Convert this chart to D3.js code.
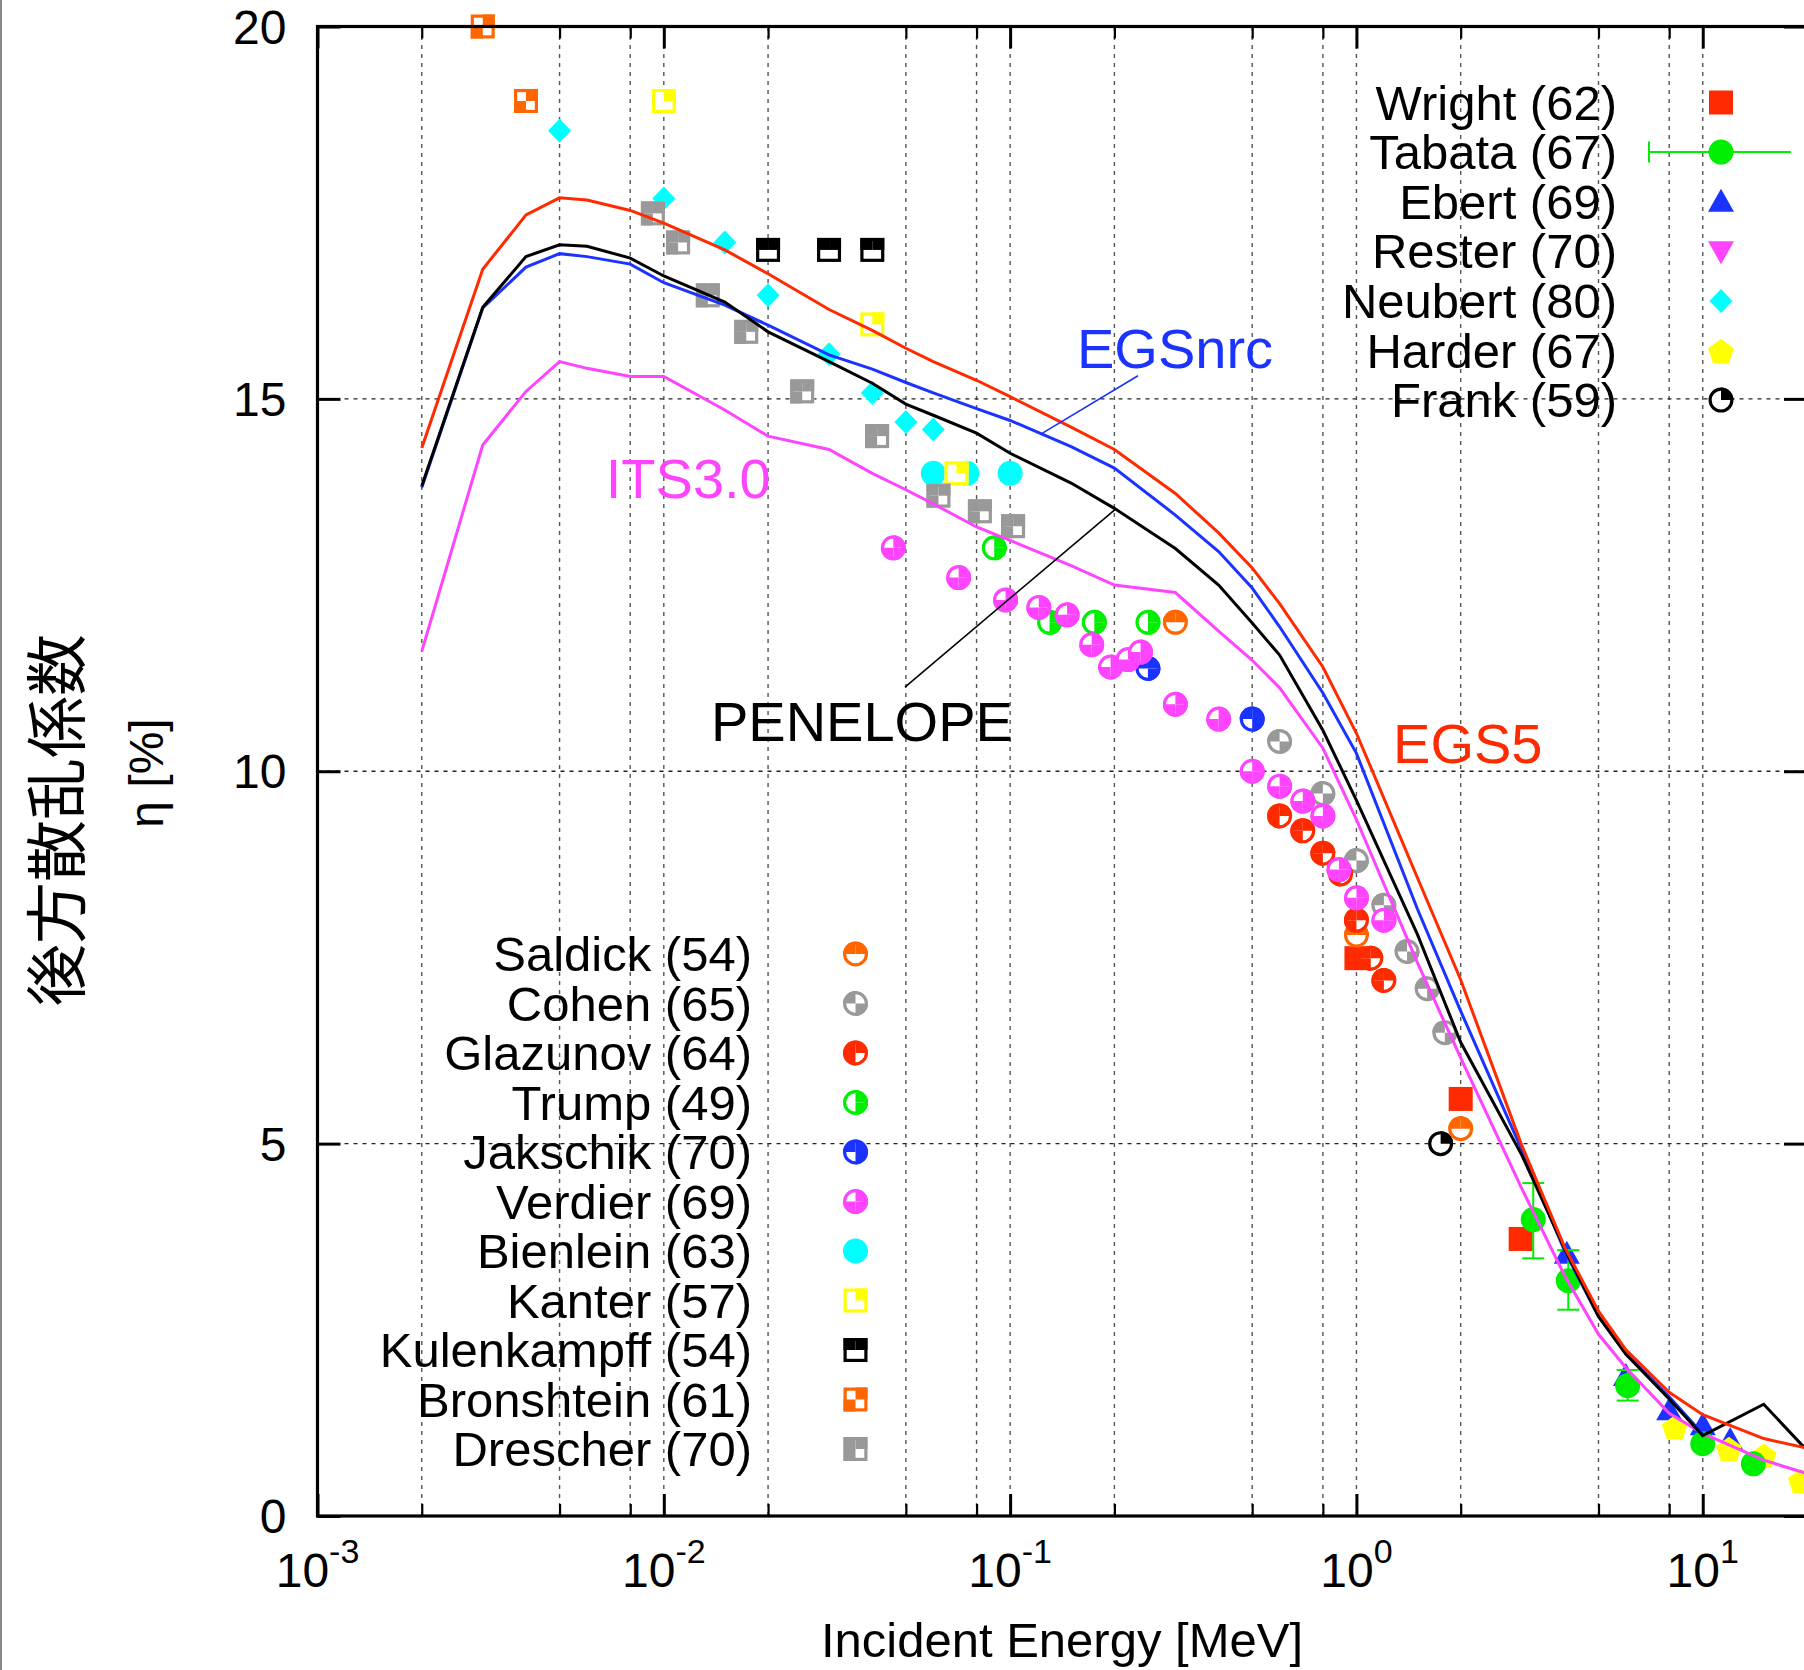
<!DOCTYPE html>
<html>
<head>
<meta charset="utf-8">
<script src="https://cdn.jsdelivr.net/npm/d3@7"></script>
<style>
  body { margin: 0; background: #fff; }
  text { font-family: "Liberation Sans", Arial, Helvetica, sans-serif; }
</style>
</head>
<body>
<div id="chart"></div>
<script>
// ---- simulation curves (energy grid shared by all codes) ----
var simE     = [0.002, 0.003, 0.004, 0.005, 0.006, 0.008, 0.01, 0.015, 0.02, 0.03, 0.04, 0.05, 0.06, 0.08, 0.1, 0.15, 0.2, 0.3, 0.4, 0.5, 0.6, 0.8, 1, 1.5, 2, 3, 4, 5, 6, 8, 10, 15, 20];
var egs5     = [14.34, 16.74, 17.47, 17.70, 17.67, 17.53, 17.36, 17.00, 16.68, 16.20, 15.92, 15.68, 15.50, 15.25, 15.03, 14.62, 14.32, 13.73, 13.20, 12.73, 12.25, 11.40, 10.51, 8.57, 7.20, 4.98, 3.60, 2.75, 2.23, 1.66, 1.36, 1.04, 0.91];
var egsnrc   = [13.81, 16.22, 16.77, 16.95, 16.91, 16.81, 16.56, 16.26, 15.99, 15.59, 15.40, 15.22, 15.08, 14.87, 14.71, 14.36, 14.07, 13.44, 12.95, 12.46, 11.94, 11.05, 10.24, 8.15, 6.78, 4.92, 3.55, 2.68, 2.18, 1.60, 1.10, null, null];
var penelope = [13.83, 16.23, 16.91, 17.07, 17.05, 16.89, 16.65, 16.30, 15.90, 15.50, 15.21, 14.93, 14.78, 14.54, 14.27, 13.87, 13.53, 12.99, 12.50, 11.99, 11.56, 10.55, 9.61, 7.81, 6.36, 4.85, 3.58, 2.68, 2.17, 1.57, 1.08, 1.50, 0.88];
var its30    = [11.61, 14.38, 15.10, 15.50, 15.41, 15.30, 15.30, 14.85, 14.50, 14.32, 14.00, 13.78, 13.59, 13.28, 13.10, 12.76, 12.50, 12.40, 11.88, 11.49, 11.12, 10.31, 9.35, 7.43, 6.15, 4.40, 3.22, 2.44, 1.99, 1.38, 1.11, 0.75, 0.57];

// ---- measurements [E (MeV), eta (%)] ----
var saldick     = [[0.3, 12.0], [1.0, 7.8], [2.0, 5.2]];
var cohen       = [[0.6, 10.4], [0.8, 9.7], [1.0, 8.8], [1.2, 8.2], [1.4, 7.58], [1.6, 7.08], [1.8, 6.49]];
var glazunov    = [[0.6, 9.4], [0.7, 9.2], [0.8, 8.9], [0.9, 8.62], [1.0, 8.0], [1.1, 7.49], [1.2, 7.19]];
var trump       = [[0.09, 13.0], [0.13, 12.0], [0.175, 12.0], [0.25, 12.0]];
var jakschik    = [[0.25, 11.38], [0.5, 10.7]];
var verdier     = [[0.046, 13.0], [0.071, 12.6], [0.097, 12.3], [0.121, 12.2], [0.146, 12.1], [0.172, 11.7], [0.195, 11.4], [0.219, 11.5], [0.238, 11.6], [0.3, 10.9], [0.4, 10.7], [0.5, 10.0], [0.6, 9.8], [0.7, 9.6], [0.8, 9.4], [0.89, 8.68], [1.0, 8.3], [1.2, 8.0]];
var bienlein    = [[0.06, 14.0], [0.075, 14.0], [0.1, 14.0]];
var kanter      = [[0.01, 19.0], [0.04, 16.0], [0.07, 14.0]];
var kulenkampff = [[0.02, 17.0], [0.03, 17.0], [0.04, 17.0]];
var bronshtein  = [[0.003, 20.0], [0.004, 19.0]];
var drescher    = [[0.0093, 17.49], [0.011, 17.1], [0.0134, 16.39], [0.0173, 15.9], [0.0251, 15.1], [0.0413, 14.5], [0.0621, 13.7], [0.0818, 13.49], [0.102, 13.29]];
var wright      = [[1.0, 7.49], [2.0, 5.6], [2.98, 3.72]];
var tabataE     = [3.24, 4.09, 6.07, 10.0, 14.0];
var tabataEta   = [3.98, 3.16, 1.75, 0.97, 0.70];
var tabataLo    = [3.46, 2.77, 1.55, null, null];
var tabataHi    = [4.47, 3.57, 1.96, null, null];
var ebert       = [[4.05, 3.52], [6.0, 1.88], [8.0, 1.42], [10.0, 1.22], [12.0, 1.02]];
var rester      = [];
var neubert     = [[0.005, 18.6], [0.01, 17.69], [0.015, 17.1], [0.02, 16.39], [0.03, 15.6], [0.04, 15.08], [0.05, 14.69], [0.06, 14.59]];
var harder      = [[8.3, 1.2], [11.9, 0.91], [15.0, 0.82], [19.2, 0.48]];
var frank       = [[1.75, 5.0]];

// ---- axis ticks ----
var xMajor = [0.001, 0.01, 0.1, 1, 10];
var xExp   = ["-3", "-2", "-1", "0", "1"];
var xMinor = [];
xMajor.forEach(function(d) { [2, 5, 8].forEach(function(m) { if (d * m <= 20) xMinor.push(d * m); }); });
var yTicks = [0, 5, 10, 15, 20];

var W = 1804, H = 1670;
var svg = d3.select("#chart").append("svg").attr("width", W).attr("height", H);

var x = d3.scaleLog().domain([0.001, 20]).range([317.5, 1807]);
var y = d3.scaleLinear().domain([0, 20]).range([1516, 26.5]);

var red = "#ff2a00", blue = "#1a33ff", black = "#000", mag = "#ff44ff",
    cyan = "#00ffff", green = "#00ee00", yellow = "#ffff00", orange = "#ff6600", gray = "#999";

// thin frame line at the very left of the picture
svg.append("line").attr("x1", 1).attr("x2", 1).attr("y1", 0).attr("y2", H)
   .attr("stroke", "#888").attr("stroke-width", 2);

// grid
var grid = svg.append("g");
grid.selectAll(".vg").data(xMajor.concat(xMinor)).enter().append("line")
    .attr("x1", function(d) { return x(d); }).attr("x2", function(d) { return x(d); })
    .attr("y1", y(0)).attr("y2", y(20))
    .attr("stroke", "#555").attr("stroke-width", 1.4).attr("stroke-dasharray", "4,5");
grid.selectAll(".hg").data([5, 10, 15]).enter().append("line")
    .attr("x1", x(0.001)).attr("x2", x(20))
    .attr("y1", function(d) { return y(d); }).attr("y2", function(d) { return y(d); })
    .attr("stroke", "#222").attr("stroke-width", 1.4).attr("stroke-dasharray", "4,5");

// ---- marker drawing ----
var R = 12.5, S = 24;
var quadAngles = { TR: [0, Math.PI / 2], BR: [Math.PI / 2, Math.PI], BL: [Math.PI, 1.5 * Math.PI], TL: [1.5 * Math.PI, 2 * Math.PI] };

function circleMark(g, cx, cy, color, quads) {
    var m = g.append("g").attr("transform", "translate(" + cx + "," + cy + ")");
    m.append("circle").attr("r", R - 1.6).attr("fill", "#fff");
    quads.forEach(function(q) {
        m.append("path").attr("fill", color)
         .attr("d", d3.arc()({ innerRadius: 0, outerRadius: R, startAngle: quadAngles[q][0], endAngle: quadAngles[q][1] }));
    });
    m.append("circle").attr("r", R - 1.6).attr("fill", "none").attr("stroke", color).attr("stroke-width", 3.2);
}

function squareMark(g, cx, cy, color, quads) {
    var m = g.append("g").attr("transform", "translate(" + cx + "," + cy + ")");
    var h = S / 2;
    m.append("rect").attr("x", -h).attr("y", -h).attr("width", S).attr("height", S).attr("fill", "#fff");
    var pos = { TL: [-h, -h], TR: [0, -h], BL: [-h, 0], BR: [0, 0] };
    quads.forEach(function(q) {
        m.append("rect").attr("x", pos[q][0]).attr("y", pos[q][1]).attr("width", h).attr("height", h).attr("fill", color);
    });
    m.append("rect").attr("x", -h + 1.6).attr("y", -h + 1.6).attr("width", S - 3.2).attr("height", S - 3.2)
     .attr("fill", "none").attr("stroke", color).attr("stroke-width", 3.2);
}

function fullSquare(g, cx, cy, color) {
    g.append("rect").attr("x", cx - S / 2).attr("y", cy - S / 2).attr("width", S).attr("height", S).attr("fill", color);
}
function triUp(g, cx, cy, color) {
    g.append("path").attr("fill", color)
     .attr("d", "M" + cx + "," + (cy - 13) + "L" + (cx + 13) + "," + (cy + 10) + "L" + (cx - 13) + "," + (cy + 10) + "Z");
}
function triDown(g, cx, cy, color) {
    g.append("path").attr("fill", color)
     .attr("d", "M" + cx + "," + (cy + 13) + "L" + (cx + 13) + "," + (cy - 10) + "L" + (cx - 13) + "," + (cy - 10) + "Z");
}
function diamond(g, cx, cy, color) {
    g.append("path").attr("fill", color)
     .attr("d", "M" + cx + "," + (cy - 12) + "L" + (cx + 11.5) + "," + cy + "L" + cx + "," + (cy + 12) + "L" + (cx - 11.5) + "," + cy + "Z");
}
function pentagon(g, cx, cy, color) {
    var pts = d3.range(5).map(function(i) {
        var a = -Math.PI / 2 + i * 2 * Math.PI / 5;
        return [cx + 13.5 * Math.cos(a), cy + 2 + 13.5 * Math.sin(a)];
    });
    g.append("path").attr("fill", color).attr("d", "M" + pts.join("L") + "Z");
}
function filledCircle(g, cx, cy, color) {
    g.append("circle").attr("cx", cx).attr("cy", cy).attr("r", R).attr("fill", color);
}

// series table: name, data, drawing function
var series = [
    { name: "Saldick (54)",     data: saldick,     draw: function(g, a, b) { circleMark(g, a, b, orange, ["TL", "TR"]); } },
    { name: "Cohen (65)",       data: cohen,       draw: function(g, a, b) { circleMark(g, a, b, gray, ["TL", "BR"]); } },
    { name: "Glazunov (64)",    data: glazunov,    draw: function(g, a, b) { circleMark(g, a, b, red, ["TL", "TR", "BL"]); } },
    { name: "Trump (49)",       data: trump,       draw: function(g, a, b) { circleMark(g, a, b, green, ["TR", "BR"]); } },
    { name: "Jakschik (70)",    data: jakschik,    draw: function(g, a, b) { circleMark(g, a, b, blue, ["TL", "TR", "BR"]); } },
    { name: "Verdier (69)",     data: verdier,     draw: function(g, a, b) { circleMark(g, a, b, mag, ["TR", "BR", "BL"]); } },
    { name: "Bienlein (63)",    data: bienlein,    draw: function(g, a, b) { filledCircle(g, a, b, cyan); } },
    { name: "Kanter (57)",      data: kanter,      draw: function(g, a, b) { squareMark(g, a, b, yellow, ["TR"]); } },
    { name: "Kulenkampff (54)", data: kulenkampff, draw: function(g, a, b) { squareMark(g, a, b, black, ["TL", "TR"]); } },
    { name: "Bronshtein (61)",  data: bronshtein,  draw: function(g, a, b) { squareMark(g, a, b, orange, ["TR", "BL"]); } },
    { name: "Drescher (70)",    data: drescher,    draw: function(g, a, b) { squareMark(g, a, b, gray, ["TL", "TR", "BL"]); } }
];
var series2 = [
    { name: "Wright (62)",  data: wright,  draw: function(g, a, b) { fullSquare(g, a, b, red); } },
    { name: "Tabata (67)",  data: [],      draw: function(g, a, b) { filledCircle(g, a, b, green); } },
    { name: "Ebert (69)",   data: ebert,   draw: function(g, a, b) { triUp(g, a, b, blue); } },
    { name: "Rester (70)",  data: rester,  draw: function(g, a, b) { triDown(g, a, b, mag); } },
    { name: "Neubert (80)", data: neubert, draw: function(g, a, b) { diamond(g, a, b, cyan); } },
    { name: "Harder (67)",  data: harder,  draw: function(g, a, b) { pentagon(g, a, b, yellow); } },
    { name: "Frank (59)",   data: frank,   draw: function(g, a, b) { circleMark(g, a, b, black, ["TR"]); } }
];

// data points
var pts = svg.append("g");
series2.concat(series).forEach(function(s) {
    s.data.forEach(function(d) { s.draw(pts, x(d[0]), y(d[1])); });
});
// Tabata with error bars
tabataE.forEach(function(e, i) {
    if (tabataLo[i] !== null) {
        var cx = x(e);
        pts.append("line").attr("x1", cx).attr("x2", cx).attr("y1", y(tabataLo[i])).attr("y2", y(tabataHi[i]))
           .attr("stroke", green).attr("stroke-width", 2);
        [tabataLo[i], tabataHi[i]].forEach(function(v) {
            pts.append("line").attr("x1", cx - 11).attr("x2", cx + 11).attr("y1", y(v)).attr("y2", y(v))
               .attr("stroke", green).attr("stroke-width", 2);
        });
    }
    filledCircle(pts, x(e), y(tabataEta[i]), green);
});

// simulation curves
var line = d3.line()
    .defined(function(d) { return d[1] !== null; })
    .x(function(d) { return x(d[0]); }).y(function(d) { return y(d[1]); });
[[its30, mag], [egsnrc, blue], [penelope, black], [egs5, red]].forEach(function(c) {
    svg.append("path").datum(simE.map(function(e, i) { return [e, c[0][i]]; }))
       .attr("d", line).attr("fill", "none").attr("stroke", c[1]).attr("stroke-width", 3)
       .attr("stroke-linejoin", "miter");
});

// curve labels and leader lines (positions in data units)
function label(txt, e, v, color) {
    svg.append("text").attr("x", x(e)).attr("y", y(v)).attr("fill", color)
       .attr("font-size", 56).text(txt);
}
label("EGSnrc", 0.156, 15.41, blue);
label("EGS5", 1.276, 10.11, red);
label("PENELOPE", 0.01368, 10.40, black);
label("ITS3.0", 0.0068, 13.67, mag);
svg.append("line").attr("x1", x(0.234)).attr("y1", y(15.31)).attr("x2", x(0.124)).attr("y2", y(14.54))
   .attr("stroke", blue).attr("stroke-width", 1.6);
svg.append("line").attr("x1", x(0.0497)).attr("y1", y(11.13)).attr("x2", x(0.2004)).attr("y2", y(13.51))
   .attr("stroke", black).attr("stroke-width", 1.6);

// ---- axes ----
function styleAxis(g, width) {
    g.select(".domain").remove();
    g.selectAll("line").attr("stroke", "#000").attr("stroke-width", width);
    g.selectAll("text").remove();
}
var gx = svg.append("g").attr("transform", "translate(0," + y(0) + ")");
gx.call(d3.axisBottom(x).tickValues(xMajor).tickSize(-22).tickSizeOuter(0)); styleAxis(gx, 3);
var gx2 = svg.append("g").attr("transform", "translate(0," + y(0) + ")");
gx2.call(d3.axisBottom(x).tickValues(xMinor).tickSize(-12).tickSizeOuter(0)); styleAxis(gx2, 2.2);
var gt = svg.append("g").attr("transform", "translate(0," + y(20) + ")");
gt.call(d3.axisTop(x).tickValues(xMajor).tickSize(-22).tickSizeOuter(0)); styleAxis(gt, 3);
var gt2 = svg.append("g").attr("transform", "translate(0," + y(20) + ")");
gt2.call(d3.axisTop(x).tickValues(xMinor).tickSize(-12).tickSizeOuter(0)); styleAxis(gt2, 2.2);
var gy = svg.append("g").attr("transform", "translate(" + x(0.001) + ",0)");
gy.call(d3.axisLeft(y).tickValues(yTicks).tickSize(-23).tickSizeOuter(0)); styleAxis(gy, 3);
var gr = svg.append("g").attr("transform", "translate(" + x(20) + ",0)");
gr.call(d3.axisRight(y).tickValues(yTicks).tickSize(-23).tickSizeOuter(0)); styleAxis(gr, 3);

svg.append("rect").attr("x", x(0.001)).attr("y", y(20)).attr("width", x(20) - x(0.001)).attr("height", y(0) - y(20))
   .attr("fill", "none").attr("stroke", "#000").attr("stroke-width", 3.2);

// tick labels
svg.selectAll(".ylab").data(yTicks).enter().append("text")
   .attr("x", x(0.001) - 31).attr("y", function(d) { return y(d) + 17; })
   .attr("text-anchor", "end").attr("font-size", 48).text(function(d) { return d; });
xMajor.forEach(function(d, i) {
    var t = svg.append("text").attr("x", x(d)).attr("y", 1587).attr("text-anchor", "middle").attr("font-size", 48);
    t.append("tspan").text("10");
    t.append("tspan").attr("font-size", 34).attr("dy", -24).text(xExp[i]);
});

// axis titles
svg.append("text").attr("x", 1062).attr("y", 1657).attr("text-anchor", "middle").attr("font-size", 49)
   .text("Incident Energy [MeV]");
svg.append("text").attr("transform", "translate(80,820) rotate(-90)").attr("text-anchor", "middle")
   .attr("font-size", 62).style("font-family", "'Noto Sans CJK JP', sans-serif").text("後方散乱係数");
svg.append("text").attr("transform", "translate(163,773) rotate(-90)").attr("text-anchor", "middle")
   .attr("font-size", 48).text("η [%]");

// ---- legends ----
var lg1 = svg.append("g");
series2.forEach(function(s, i) {
    var yy = 102.5 + 49.6 * i;
    lg1.append("text").attr("x", 1617).attr("y", yy + 17).attr("text-anchor", "end").attr("font-size", 49).text(s.name);
    if (s.name.indexOf("Tabata") === 0) {
        lg1.append("line").attr("x1", 1649).attr("x2", 1791).attr("y1", yy).attr("y2", yy).attr("stroke", green).attr("stroke-width", 2);
        lg1.append("line").attr("x1", 1649).attr("x2", 1649).attr("y1", yy - 10.5).attr("y2", yy + 10.5).attr("stroke", green).attr("stroke-width", 2);
    }
    s.draw(lg1, 1721, yy);
});
var lg2 = svg.append("g");
series.forEach(function(s, i) {
    var yy = 954 + 49.5 * i;
    lg2.append("text").attr("x", 752).attr("y", yy + 17).attr("text-anchor", "end").attr("font-size", 49).text(s.name);
    s.draw(lg2, 855.5, yy);
});
</script>
</body>
</html>
